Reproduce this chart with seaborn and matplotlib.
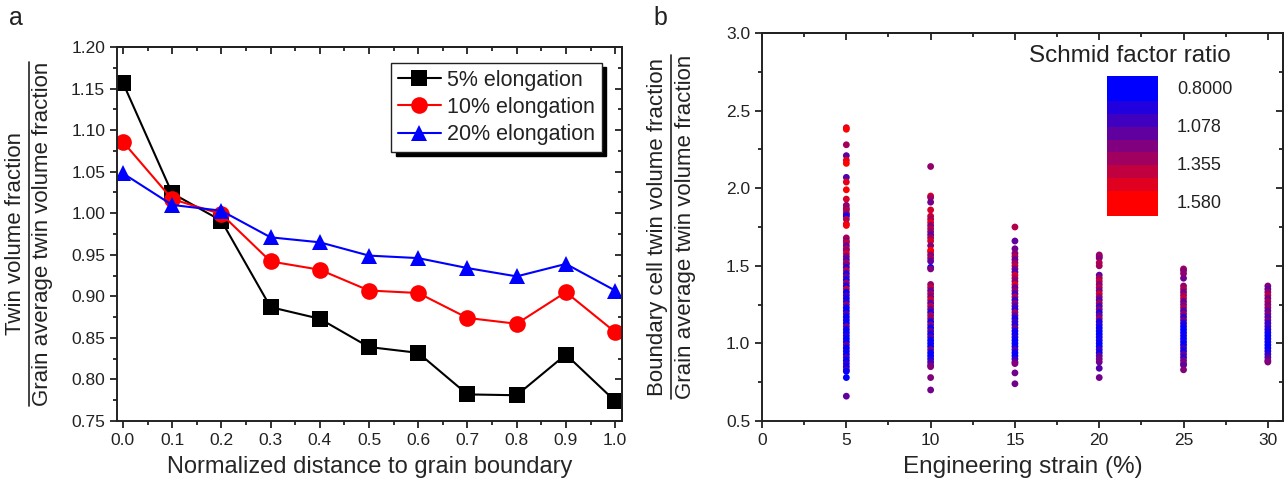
import matplotlib
matplotlib.use('Agg')
import matplotlib.pyplot as plt
import numpy as np
import pandas as pd
import seaborn as sns
from matplotlib import font_manager
from matplotlib.colors import LinearSegmentedColormap, ListedColormap
from matplotlib.lines import Line2D
from matplotlib.ticker import MultipleLocator

# ---------------- panel a data ----------------
distance = [0.0, 0.1, 0.2, 0.3, 0.4, 0.5, 0.6, 0.7, 0.8, 0.9, 1.0]
elong_5 = [1.157, 1.024, 0.991, 0.887, 0.873, 0.839, 0.832, 0.782, 0.781, 0.830, 0.774]
elong_10 = [1.086, 1.017, 0.999, 0.942, 0.932, 0.907, 0.904, 0.874, 0.867, 0.905, 0.857]
elong_20 = [1.048, 1.010, 1.003, 0.971, 0.965, 0.949, 0.946, 0.934, 0.924, 0.939, 0.907]
series_names = ['5% elongation', '10% elongation', '20% elongation']

# ---------------- panel b data ----------------
# boundary cell / grain average twin volume fraction, and Schmid factor ratio per point
ratio_5 = [2.39, 2.38, 2.28, 2.21, 2.18, 2.16, 2.07, 2.04, 1.99, 1.93, 1.89, 1.87, 1.86, 1.84, 1.83, 1.82, 1.80, 1.77, 1.76,
           1.68, 1.66, 1.65, 1.63, 1.61, 1.60, 1.58, 1.56, 1.54, 1.52,
           1.51, 1.49, 1.47, 1.45, 1.43, 1.41, 1.39, 1.37, 1.35, 1.33,
           1.31, 1.29, 1.27, 1.25, 1.23, 1.21, 1.19, 1.17, 1.15, 1.13,
           1.11, 1.09, 1.07, 1.05, 1.03, 1.01, 0.99, 0.97, 0.95, 0.93,
           0.91, 0.89, 0.87, 0.85, 0.83, 0.82, 0.78, 0.66]
sf_5 = [1.45, 1.58, 1.30, 1.10, 1.50, 1.58, 1.05, 1.50, 1.58, 1.45, 1.25, 1.20, 1.35, 1.30, 1.15, 0.85, 1.35, 1.45, 1.55,
        1.30, 1.20, 1.40, 1.10, 1.35, 1.25, 1.45, 1.15, 1.05, 1.30,
        1.20, 0.95, 1.35, 0.90, 1.10, 0.85, 1.25, 0.88, 1.40, 0.82,
        1.00, 0.85, 0.90, 1.20, 0.84, 0.80, 1.05, 0.82, 0.86, 0.80,
        1.15, 0.83, 0.81, 0.90, 0.80, 0.82, 1.10, 0.80, 0.85, 0.81,
        1.00, 0.80, 0.95, 0.84, 1.05, 0.82, 0.80, 1.10]

ratio_10 = [2.14, 1.95, 1.94, 1.91, 1.86, 1.82, 1.80, 1.78, 1.76, 1.74, 1.72, 1.70, 1.68, 1.66, 1.63, 1.60, 1.59, 1.57,
            1.55, 1.53, 1.49, 1.48,
            1.38, 1.36, 1.34, 1.32, 1.30, 1.28, 1.26, 1.24, 1.22, 1.20, 1.18, 1.16, 1.14, 1.12,
            1.10, 1.08, 1.06, 1.04, 1.02, 1.00, 0.98, 0.96, 0.94, 0.92, 0.90, 0.88, 0.86, 0.85,
            0.78, 0.70]
sf_10 = [1.25, 1.50, 1.30, 1.15, 1.45, 1.40, 1.30, 1.50, 1.20, 1.35, 1.25, 1.10, 1.30, 1.45, 1.20, 1.58, 1.55, 1.20,
         1.30, 1.10, 0.85, 1.20,
         1.25, 1.40, 1.10, 1.30, 1.20, 1.45, 1.05, 1.35, 1.15, 0.90, 1.30, 1.25, 0.85, 1.20,
         0.82, 1.10, 0.86, 1.05, 0.81, 0.84, 0.80, 1.15, 0.83, 0.80, 0.90, 1.00, 1.10, 1.20,
         1.20, 1.15]

ratio_15 = [1.75, 1.66, 1.61,
            1.58, 1.56, 1.54, 1.52, 1.50, 1.48, 1.46, 1.44, 1.42, 1.40, 1.38, 1.36, 1.34, 1.32, 1.30,
            1.28, 1.26, 1.24, 1.22, 1.20, 1.18, 1.16, 1.14, 1.12, 1.10, 1.08, 1.06, 1.04, 1.02, 1.00,
            0.98, 0.96, 0.94, 0.92, 0.90, 0.88, 0.87,
            0.81, 0.74]
sf_15 = [1.35, 1.10, 1.15,
         1.20, 1.35, 1.10, 1.25, 1.40, 1.15, 1.05, 1.45, 1.30, 1.20, 1.50, 1.10, 1.25, 1.00, 1.35,
         0.95, 1.20, 1.05, 0.90, 1.30, 1.10, 0.85, 1.00, 0.88, 1.15, 0.84, 0.82, 0.90, 0.80, 0.83,
         0.81, 1.05, 0.82, 0.80, 0.95, 1.10, 1.20,
         1.15, 1.15]

ratio_20 = [1.57, 1.56, 1.55, 1.52, 1.50,
            1.44, 1.42, 1.40, 1.38, 1.36, 1.34, 1.32, 1.30, 1.28, 1.26, 1.24, 1.22, 1.20, 1.18,
            1.16, 1.14, 1.12, 1.10, 1.08, 1.06, 1.04, 1.02, 1.00, 0.98, 0.96, 0.94, 0.92, 0.90,
            0.88, 0.84, 0.78]
sf_20 = [1.25, 1.30, 1.20, 1.35, 1.30,
         1.10, 1.30, 1.40, 1.20, 1.35, 1.15, 1.45, 1.25, 1.05, 1.30, 1.00, 1.20, 0.90, 1.10,
         1.25, 0.85, 0.95, 0.82, 0.84, 0.80, 0.83, 0.86, 0.81, 0.80, 1.00, 0.82, 1.10, 1.15,
         1.15, 1.05, 1.15]

ratio_25 = [1.48, 1.47, 1.45, 1.42,
            1.37, 1.35, 1.33, 1.31, 1.29, 1.27, 1.25, 1.23, 1.21, 1.19, 1.17, 1.15, 1.13, 1.11,
            1.09, 1.07, 1.05, 1.03, 1.01, 0.99, 0.97, 0.95, 0.93, 0.91, 0.89, 0.87, 0.86,
            0.83]
sf_25 = [1.30, 1.20, 1.25, 1.15,
         1.25, 1.35, 1.15, 1.30, 1.40, 1.10, 1.20, 1.30, 1.05, 1.25, 0.95, 1.15, 0.90, 0.85,
         0.82, 0.80, 0.84, 0.81, 0.86, 0.80, 1.00, 0.85, 1.10, 0.95, 1.15, 1.20, 1.10,
         1.20]

ratio_30 = [1.37, 1.35, 1.33, 1.31, 1.29, 1.27, 1.25, 1.23, 1.21, 1.19, 1.17, 1.15, 1.13,
            1.11, 1.09, 1.07, 1.05, 1.03, 1.01, 0.99, 0.97, 0.95, 0.93, 0.91, 0.89, 0.88]
sf_30 = [1.20, 1.10, 1.25, 1.35, 1.15, 1.30, 1.20, 1.25, 1.10, 1.20, 1.05, 1.15, 0.95,
         1.00, 0.90, 0.85, 0.82, 0.80, 0.84, 0.81, 0.80, 0.86, 0.95, 1.05, 1.15, 1.20]

strains = [5, 10, 15, 20, 25, 30]
sf_labels = ['0.8000', '1.078', '1.355', '1.580']
sf_range = (0.80, 1.58)

# ---------------- style ----------------
sns.set_theme(style='ticks')
plt.rcParams['font.family'] = ['Liberation Sans', 'DejaVu Sans']
ink = '#222222'
plt.rcParams['axes.edgecolor'] = ink
plt.rcParams['text.color'] = ink
names = {f.name for f in font_manager.fontManager.ttflist}
tick_family = ['Liberation Sans Narrow', 'Liberation Sans'] if 'Liberation Sans Narrow' in names else ['Liberation Sans']

cmap = LinearSegmentedColormap.from_list('br', ['#0000ff', '#ff0000'])

fig = plt.figure(figsize=(12.87, 4.9), dpi=100)
ax1 = fig.add_axes([0.0909, 0.1408, 0.3924, 0.7633])
ax2 = fig.add_axes([0.5921, 0.1408, 0.4048, 0.7918])


def style_frame(ax, xmaj, ymaj):
    ax.xaxis.set_major_locator(MultipleLocator(xmaj))
    ax.xaxis.set_minor_locator(MultipleLocator(xmaj / 2))
    ax.yaxis.set_major_locator(MultipleLocator(ymaj))
    ax.yaxis.set_minor_locator(MultipleLocator(ymaj / 2))
    for s in ax.spines.values():
        s.set_linewidth(1.4)
        s.set_color(ink)
    ax.tick_params(which='both', direction='out', width=1.3, colors=ink, labelsize=12.5)
    ax.tick_params(which='major', length=5)
    ax.tick_params(which='minor', length=3)
    # inward ticks on top and right
    top = ax.secondary_xaxis('top')
    top.xaxis.set_major_locator(MultipleLocator(xmaj))
    top.xaxis.set_minor_locator(MultipleLocator(xmaj / 2))
    top.tick_params(which='both', direction='in', width=1.3, colors=ink, labeltop=False)
    top.tick_params(which='major', length=5)
    top.tick_params(which='minor', length=3)
    right = ax.secondary_yaxis('right')
    right.yaxis.set_major_locator(MultipleLocator(ymaj))
    right.yaxis.set_minor_locator(MultipleLocator(ymaj / 2))
    right.tick_params(which='both', direction='in', width=1.3, colors=ink, labelright=False)
    right.tick_params(which='major', length=5)
    right.tick_params(which='minor', length=3)
    for sec in (top, right):
        for s in sec.spines.values():
            s.set_linewidth(1.4)
            s.set_color(ink)


# ---------------- panel a ----------------
df_a = pd.DataFrame({
    'distance': distance * 3,
    'value': elong_5 + elong_10 + elong_20,
    'series': [n for n in series_names for _ in distance],
})
line_styles = {
    '5% elongation': ('black', 's', 11),
    '10% elongation': ('#ff0000', 'o', 12),
    '20% elongation': ('#0000ff', '^', 12),
}
for name in series_names:
    color, marker, ms = line_styles[name]
    sns.lineplot(data=df_a[df_a['series'] == name], x='distance', y='value', ax=ax1,
                 color=color, marker=marker, markersize=ms, markeredgewidth=0,
                 linewidth=1.5, label=name, legend=False)

ax1.set_xlim(-0.012, 1.014)
ax1.set_ylim(0.75, 1.20)
ax1.set_xlabel('Normalized distance to grain boundary', fontsize=17, labelpad=6)
ax1.set_ylabel('')
style_frame(ax1, 0.1, 0.05)
ax1.xaxis.set_major_formatter(plt.FuncFormatter(lambda v, _: f'{v:.1f}'))
ax1.yaxis.set_major_formatter(plt.FuncFormatter(lambda v, _: f'{v:.2f}'))

leg = ax1.legend(loc='upper right', bbox_to_anchor=(0.960, 0.957), borderaxespad=0,
                 fontsize=15.5, frameon=True, fancybox=False, handlelength=2.0,
                 handletextpad=0.3, labelspacing=0.3, borderpad=0.3,
                 shadow={'ox': 3, 'oy': -3, 'facecolor': 'black', 'edgecolor': 'black', 'alpha': 1})
leg.get_frame().set_edgecolor(ink)
leg.get_frame().set_linewidth(1.0)

# ---------------- panel b ----------------
df_b = pd.DataFrame({
    'strain': [5] * len(ratio_5) + [10] * len(ratio_10) + [15] * len(ratio_15)
              + [20] * len(ratio_20) + [25] * len(ratio_25) + [30] * len(ratio_30),
    'ratio': ratio_5 + ratio_10 + ratio_15 + ratio_20 + ratio_25 + ratio_30,
    'sf': sf_5 + sf_10 + sf_15 + sf_20 + sf_25 + sf_30,
})
sns.scatterplot(data=df_b, x='strain', y='ratio', hue='sf', palette=cmap, hue_norm=sf_range,
                s=24, linewidth=0, legend=False, ax=ax2)
ax2.set_xlim(0, 30.9)
ax2.set_ylim(0.5, 3.0)
ax2.set_xlabel('Engineering strain (%)', fontsize=17.5, labelpad=6)
ax2.set_ylabel('')
style_frame(ax2, 5, 0.5)
ax2.xaxis.set_major_formatter(plt.FuncFormatter(lambda v, _: f'{v:.0f}'))
ax2.yaxis.set_major_formatter(plt.FuncFormatter(lambda v, _: f'{v:.1f}'))

for ax in (ax1, ax2):
    for lbl in ax.get_xticklabels() + ax.get_yticklabels():
        lbl.set_family(tick_family)

# colour scale legend (Origin style blocks)
cax = fig.add_axes([0.8601, 0.5592, 0.0396, 0.2857])
edges = [0, 2, 3, 4, 5, 6, 7, 8, 9, 11]
block_cmap = ListedColormap([cmap(k / 8) for k in range(9)])
cax.pcolormesh([0, 1], edges, np.arange(9).reshape(-1, 1), cmap=block_cmap, vmin=-0.5, vmax=8.5)
cax.set_ylim(11, 0)
cax.set_axis_off()
fig.text(1130 / 1287, 1 - 56 / 490, 'Schmid factor ratio', ha='center', va='center', fontsize=17.5)
for lbl, ypx in zip(sf_labels, [89, 127, 165, 203]):
    fig.text(1177 / 1287, 1 - ypx / 490, lbl, ha='left', va='center', fontsize=13, family=tick_family)

# panel letters
fig.text(16 / 1287, 1 - 18 / 490, 'a', ha='center', va='center', fontsize=18)
fig.text(660 / 1287, 1 - 18 / 490, 'b', ha='center', va='center', fontsize=18)


# ---------------- fraction style y labels ----------------
def frac_label(x_num, x_line, x_den, yc, num, den, size=16):
    t1 = fig.text(x_num / 1287, yc, num, rotation=90, ha='center', va='center', fontsize=size)
    t2 = fig.text(x_den / 1287, yc, den, rotation=90, ha='center', va='center', fontsize=size)
    fig.canvas.draw()
    b1 = t1.get_window_extent()
    b2 = t2.get_window_extent()
    h = fig.bbox.height
    y0 = min(b1.y0, b2.y0) / h
    y1 = max(b1.y1, b2.y1) / h
    fig.add_artist(Line2D([x_line / 1287] * 2, [y0, y1], transform=fig.transFigure,
                          color=ink, linewidth=1.2))


frac_label(16, 29, 43, 0.1408 + 0.7633 / 2, 'Twin volume fraction', 'Grain average twin volume fraction')
frac_label(657, 671, 686, 0.1408 + 0.7918 / 2, 'Boundary cell twin volume fraction',
           'Grain average twin volume fraction')

fig.savefig('out.png', dpi=100)
